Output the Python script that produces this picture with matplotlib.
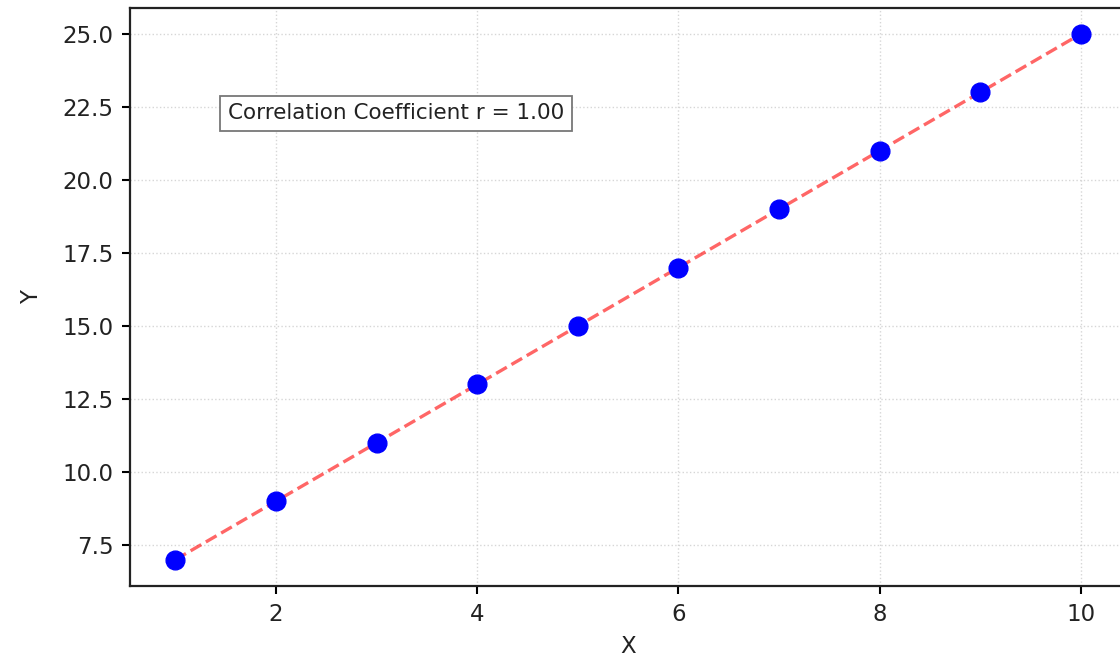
import numpy as np
import matplotlib.pyplot as plt

# data points
x_vals = [1, 2, 3, 4, 5, 6, 7, 8, 9, 10]
y_vals = [7, 9, 11, 13, 15, 17, 19, 21, 23, 25]


def main():
    x = np.array(x_vals, dtype=float)
    y = np.array(y_vals, dtype=float)

    # 상관계수와 회귀선
    r = np.corrcoef(x, y)[0, 1]
    slope, intercept = np.polyfit(x, y, 1)

    fig = plt.figure(figsize=(11.2, 6.61), dpi=100)
    ax = fig.add_axes([0.1161, 0.1135, 0.8893, 0.8749])

    ax.plot(x, y, 'o', color='blue', markersize=13.5, zorder=3)
    ax.plot(x, slope * x + intercept, '--', color='red', alpha=0.6,
            linewidth=2.4, zorder=2)

    ax.text(0.267, 0.817, f'Correlation Coefficient r = {r:.2f}',
            transform=ax.transAxes, ha='center', va='center', fontsize=15.5,
            color='#222222',
            bbox=dict(boxstyle='square,pad=0.35', facecolor='white',
                      edgecolor='#777777', linewidth=1.3))

    ax.set_xlabel('X', fontsize=16.5, color='#222222', labelpad=7)
    ax.set_ylabel('Y', fontsize=16.5, color='#222222', labelpad=14)
    ax.tick_params(labelsize=16.5, length=6, width=1.5, pad=6,
                   labelcolor='#222222')
    for s in ax.spines.values():
        s.set_linewidth(1.6)
        s.set_color('#222222')
    ax.grid(True, linestyle=':', linewidth=1.0, color='#cccccc', alpha=0.8)

    fig.savefig('out.png', dpi=100)


if __name__ == '__main__':
    main()
